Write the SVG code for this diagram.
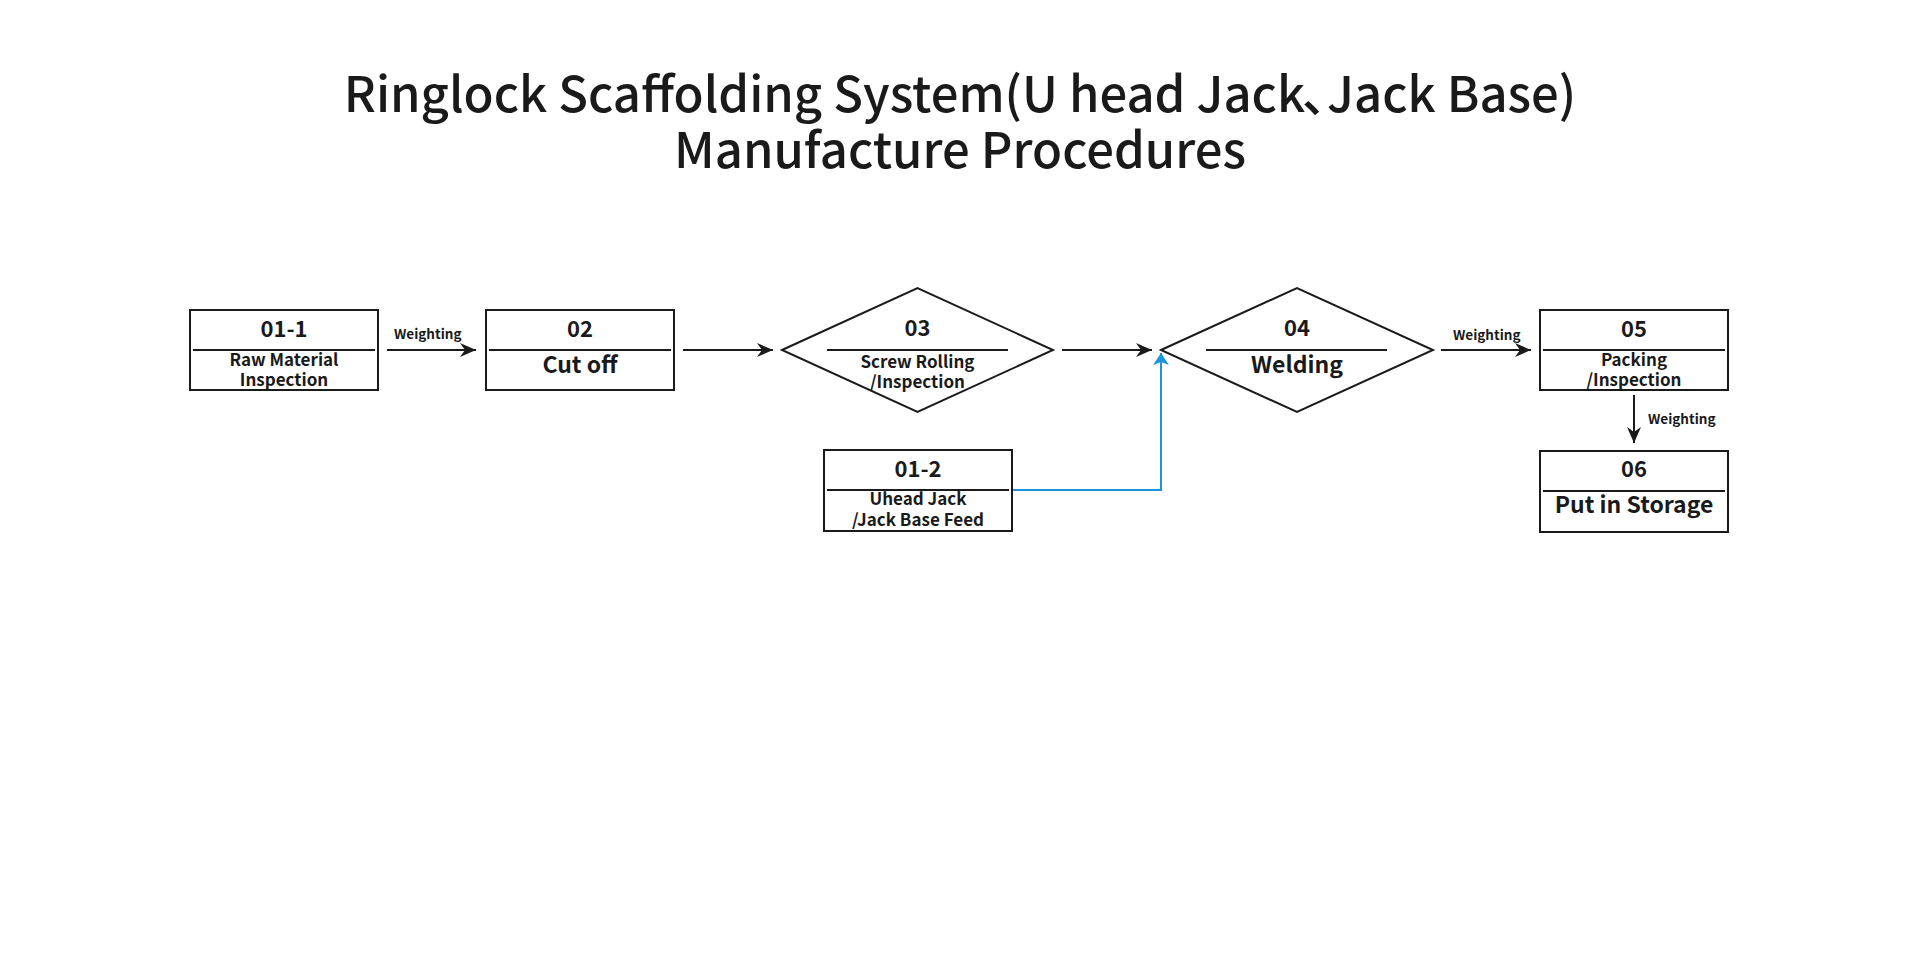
<svg xmlns="http://www.w3.org/2000/svg" width="1920" height="960" viewBox="0 0 1920 960">
  <defs>
    <style>
      text { font-family: "Noto Sans CJK SC", "Noto Sans", "Liberation Sans", sans-serif; fill: #1a1a1a; text-anchor: middle; }
      .title { font-size: 49px; font-weight: 500; }
      .num { font-size: 22px; font-weight: 700; }
      .lbl { font-size: 17px; font-weight: 700; }
      .big { font-size: 23px; font-weight: 700; }
      .wt { font-size: 13.5px; font-weight: 700; text-anchor: start; }
      .shape { fill: #ffffff; stroke: #1a1a1a; stroke-width: 2; }
      .div { stroke: #1a1a1a; stroke-width: 2; }
      .conn { fill: none; stroke: #1a1a1a; stroke-width: 2; }
      .blue { fill: none; stroke: #1b96dc; stroke-width: 2; }
    </style>
    <marker id="ah" markerUnits="userSpaceOnUse" markerWidth="18" markerHeight="16" viewBox="0 -8 18 16" refX="16" refY="0" orient="auto">
      <path d="M0,-7 L16,0 L0,7 L5,0 z" fill="#1a1a1a"/>
    </marker>
    <marker id="ahb" markerUnits="userSpaceOnUse" markerWidth="18" markerHeight="18" viewBox="0 -9 18 18" refX="12" refY="0" orient="auto">
      <path d="M0,-8 L12,0 L0,8 L3,0 z" fill="#1b96dc"/>
    </marker>
  </defs>
  <rect width="1920" height="960" fill="#ffffff"/>

  <g id="title">
    <text class="title" x="960" y="112">Ringlock Scaffolding System(U head Jack<tspan dx="-3">、</tspan><tspan dx="-24">Jack Base)</tspan></text>
    <text class="title" x="960" y="168">Manufacture Procedures</text>
  </g>

  <g id="connectors">
    <line class="conn" x1="387" y1="350" x2="476" y2="350" marker-end="url(#ah)"/>
    <text class="wt" x="394" y="339">Weighting</text>
    <line class="conn" x1="683" y1="350" x2="773" y2="350" marker-end="url(#ah)"/>
    <line class="conn" x1="1062" y1="350" x2="1152" y2="350" marker-end="url(#ah)"/>
    <line class="conn" x1="1441" y1="350" x2="1531" y2="350" marker-end="url(#ah)"/>
    <text class="wt" x="1453" y="340">Weighting</text>
    <line class="conn" x1="1634" y1="395" x2="1634" y2="443" marker-end="url(#ah)"/>
    <text class="wt" x="1648" y="424">Weighting</text>
    <polyline class="blue" points="1012,490 1161,490 1161,353" marker-end="url(#ahb)"/>
  </g>

  <g id="node-01-1">
    <rect class="shape" x="190" y="310" width="188" height="80"/>
    <line class="div" x1="193" y1="350" x2="375" y2="350"/>
    <text class="num" x="284" y="337">01-1</text>
    <text class="lbl" x="284" y="366">Raw Material</text>
    <text class="lbl" x="284" y="386">Inspection</text>
  </g>

  <g id="node-02">
    <rect class="shape" x="486" y="310" width="188" height="80"/>
    <line class="div" x1="489" y1="350" x2="671" y2="350"/>
    <text class="num" x="580" y="337">02</text>
    <text class="big" x="580" y="373">Cut off</text>
  </g>

  <g id="node-03">
    <polygon class="shape" points="782,350 917.5,288 1053,350 917.5,412"/>
    <line class="div" x1="827" y1="350" x2="1008" y2="350"/>
    <text class="num" x="917.5" y="336">03</text>
    <text class="lbl" x="917.5" y="368">Screw Rolling</text>
    <text class="lbl" x="917.5" y="388">/Inspection</text>
  </g>

  <g id="node-04">
    <polygon class="shape" points="1161,350 1297,288 1433,350 1297,412"/>
    <line class="div" x1="1206" y1="350" x2="1387" y2="350"/>
    <text class="num" x="1297" y="336">04</text>
    <text class="big" x="1297" y="373">Welding</text>
  </g>

  <g id="node-05">
    <rect class="shape" x="1540" y="310" width="188" height="80"/>
    <line class="div" x1="1543" y1="350" x2="1725" y2="350"/>
    <text class="num" x="1634" y="337">05</text>
    <text class="lbl" x="1634" y="366">Packing</text>
    <text class="lbl" x="1634" y="386">/Inspection</text>
  </g>

  <g id="node-01-2">
    <rect class="shape" x="824" y="450" width="188" height="81"/>
    <line class="div" x1="827" y1="490" x2="1009" y2="490"/>
    <text class="num" x="918" y="477">01-2</text>
    <text class="lbl" x="918" y="505">Uhead Jack</text>
    <text class="lbl" x="918" y="526">/Jack Base Feed</text>
  </g>

  <g id="node-06">
    <rect class="shape" x="1540" y="451" width="188" height="81"/>
    <line class="div" x1="1543" y1="491" x2="1725" y2="491"/>
    <text class="num" x="1634" y="477">06</text>
    <text class="big" x="1634" y="513">Put in Storage</text>
  </g>
</svg>
